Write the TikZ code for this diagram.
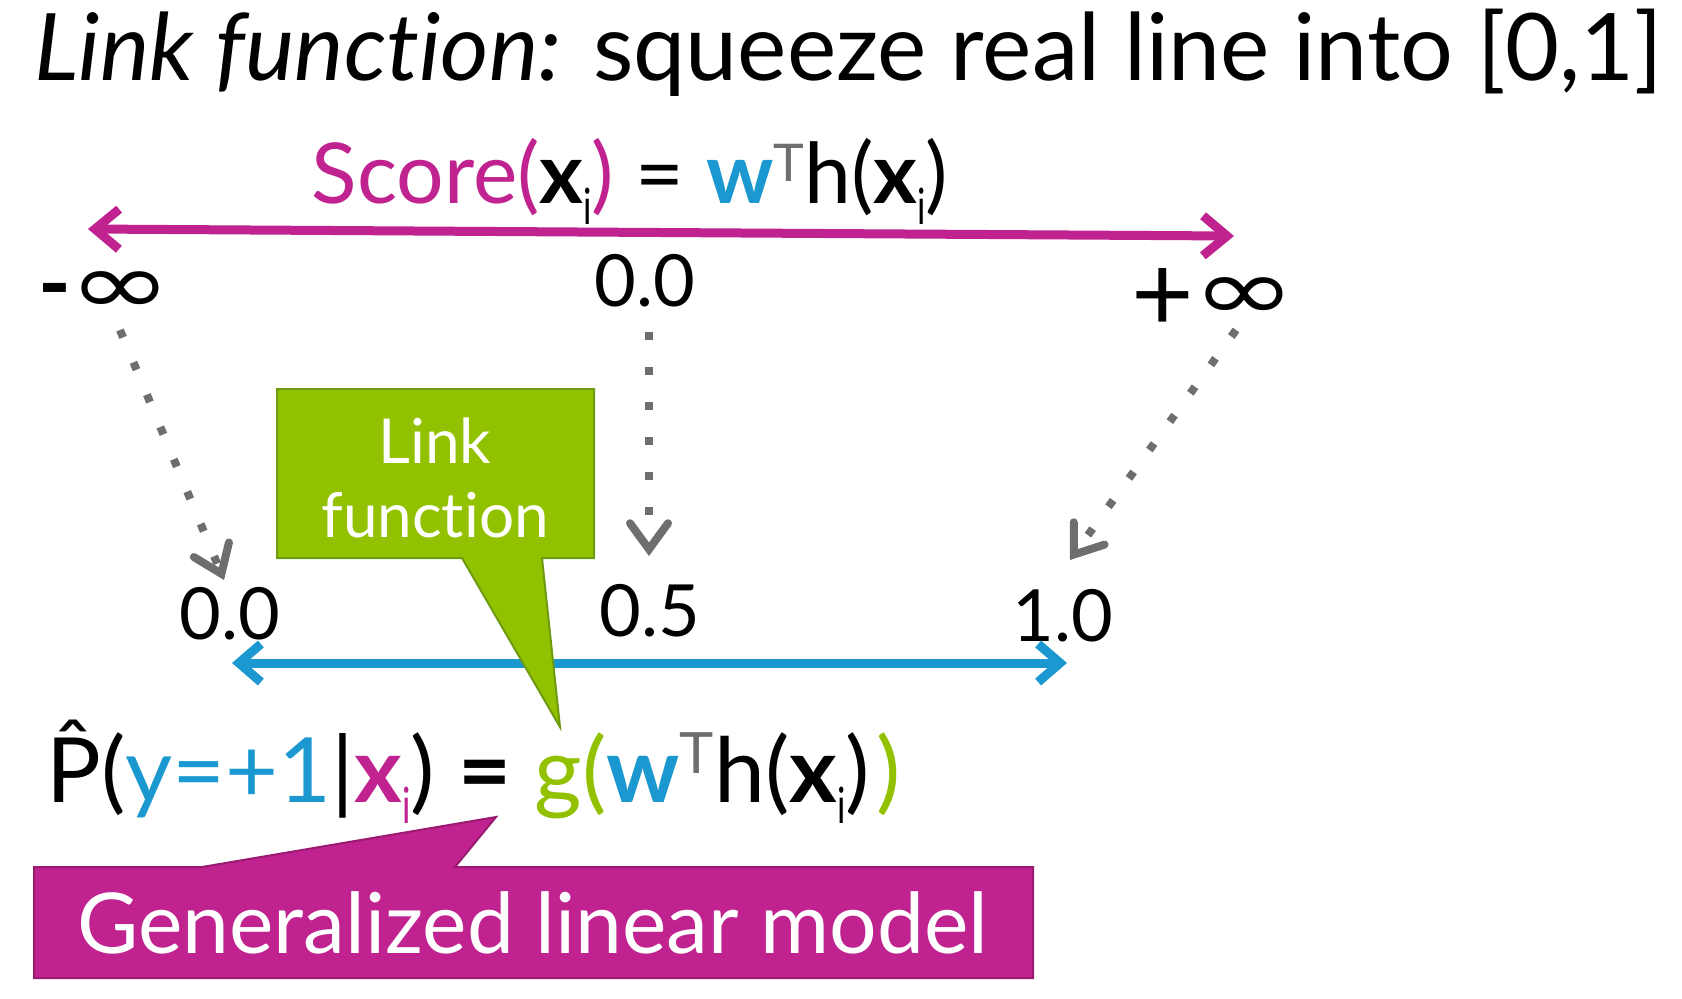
\documentclass[tikz,border=0pt]{standalone}
\usepackage{fontspec}
\setmainfont{Lato}[Ligatures=NoCommon]
\newfontfamily\dejavu{DejaVu Sans}
\usetikzlibrary{arrows.meta}
\definecolor{mag}{HTML}{C0228F}
\definecolor{magdark}{HTML}{9A1A72}
\definecolor{grn}{HTML}{92C100}
\definecolor{grndark}{HTML}{6E9A10}
\definecolor{blu}{HTML}{1B98CF}
\definecolor{gry}{HTML}{6E6E6E}
\newcommand{\mysub}[1]{\raisebox{-10.5pt}{\fontsize{25}{25}\selectfont\addfontfeature{FakeStretch=0.7}#1}}
% #1 raise, #2 size, #3 text
\newcommand{\mysup}[3]{\raisebox{#1}{\fontsize{#2}{#2}\selectfont\color{gry}#3}}
\newcommand{\infsym}{\scalebox{1.78}[1.26]{\dejavu\fontsize{35}{35}\selectfont ∞}}
\tikzset{
  lbl/.style={inner sep=0pt, font=\fontsize{36}{40}\selectfont},
  dotarrow/.style={gry, line width=4pt, dash pattern=on 4pt off 13.5pt,
    -{Straight Barb[length=13pt,width=19pt,line cap=round]}},
  magarrow/.style={mag, line width=4.5pt,
    {Straight Barb[length=12pt,width=20pt]}-{Straight Barb[length=12pt,width=20pt]}},
  bluarrow/.style={blu, line width=4.5pt,
    {Straight Barb[length=11pt,width=19pt]}-{Straight Barb[length=11pt,width=19pt]}},
  callouttext/.style={inner sep=0pt, text=white, align=center},
}
\begin{document}
\begin{tikzpicture}[x=0.5pt,y=-0.5pt]
\useasboundingbox[fill=white] (0,0) rectangle (1682,998);

% title
\node[anchor=base west, inner sep=0pt] (title) at (34,80)
  {\fontsize{46.6}{50}\selectfont\itshape Link function:\upshape{} squeeze real line into [0,1]};

% score
\node[anchor=base, inner sep=0pt] (score) at (630,203)
  {\fontsize{42}{46}\selectfont{\color{mag}Score(}\textbf{x}\mysub{i}{\color{mag})} = \textbf{\color{blu}w}\mysup{11pt}{26}{T}h(\textbf{x}\mysub{i})};

\coordinate (ml) at (88,229);
\coordinate (mr) at (1234,236);
\draw[magarrow] (ml) -- (mr);

% upper labels
\node[lbl, anchor=base west] (minf) at (38,314)
  {{\fontsize{44}{44}\selectfont\bfseries -}\hspace{-1.5pt}\infsym};
\node[lbl] (zeroA) at (645,281) {0.0};
\node[lbl, anchor=base west] (pinf) at (1131,331)
  {{\fontsize{54}{54}\selectfont +}\hspace{-1pt}\raisebox{5.5pt}{\infsym}};

% lower labels
\node[lbl] (zeroB) at (230,614) {0.0};
\node[lbl] (half) at (650,611) {0.5};
\node[lbl] (one) at (1063,616) {1.0};

% dotted arrows
\coordinate (d1s) at (120,330);
\coordinate (d1e) at (224,580);
\coordinate (d2s) at (649,332);
\coordinate (d2e) at (649,556);
\coordinate (d3s) at (1236,330);
\coordinate (d3e) at (1070,560);
\draw[dotarrow] (d1s) -- (d1e);
\draw[dotarrow] (d2s) -- (d2e);
\draw[dotarrow] (d3s) -- (d3e);

% blue arrow
\coordinate (bl) at (232,663);
\coordinate (br) at (1067,663);
\draw[bluarrow] (bl) -- (br);

% green callout
\draw[grndark, fill=grn, line width=1pt]
  (277,389) -- (594,389) -- (594,558) -- (542,558) -- (560,727) -- (462,558) -- (277,558) -- cycle;
\node[callouttext, font=\fontsize{31}{37}\selectfont] (linkf) at (435,478) {Link\\function};

% formula
\node[anchor=base west, inner sep=0pt] (formula) at (46,802)
  {\fontsize{45}{48}\selectfont\addfontfeature{FakeStretch=1.015}\^{P}({\color{blu}y=+1}|{\color{mag}\textbf{x}\mysub{i}}) \textbf{=} {\color{grn}g(}\textbf{\color{blu}w}\mysup{14.5pt}{28.5}{T}h(\textbf{x}\mysub{i})\hspace{3pt}{\color{grn})}};

% magenta callout
\draw[magdark, fill=mag, line width=1pt]
  (34,867) -- (202,867) -- (496,817) -- (455,867) -- (1033,867) -- (1033,978) -- (34,978) -- cycle;
\node[callouttext, font=\fontsize{42}{46}\selectfont, anchor=base] (glm) at (533,953) {Generalized linear model};
\end{tikzpicture}
\end{document}
